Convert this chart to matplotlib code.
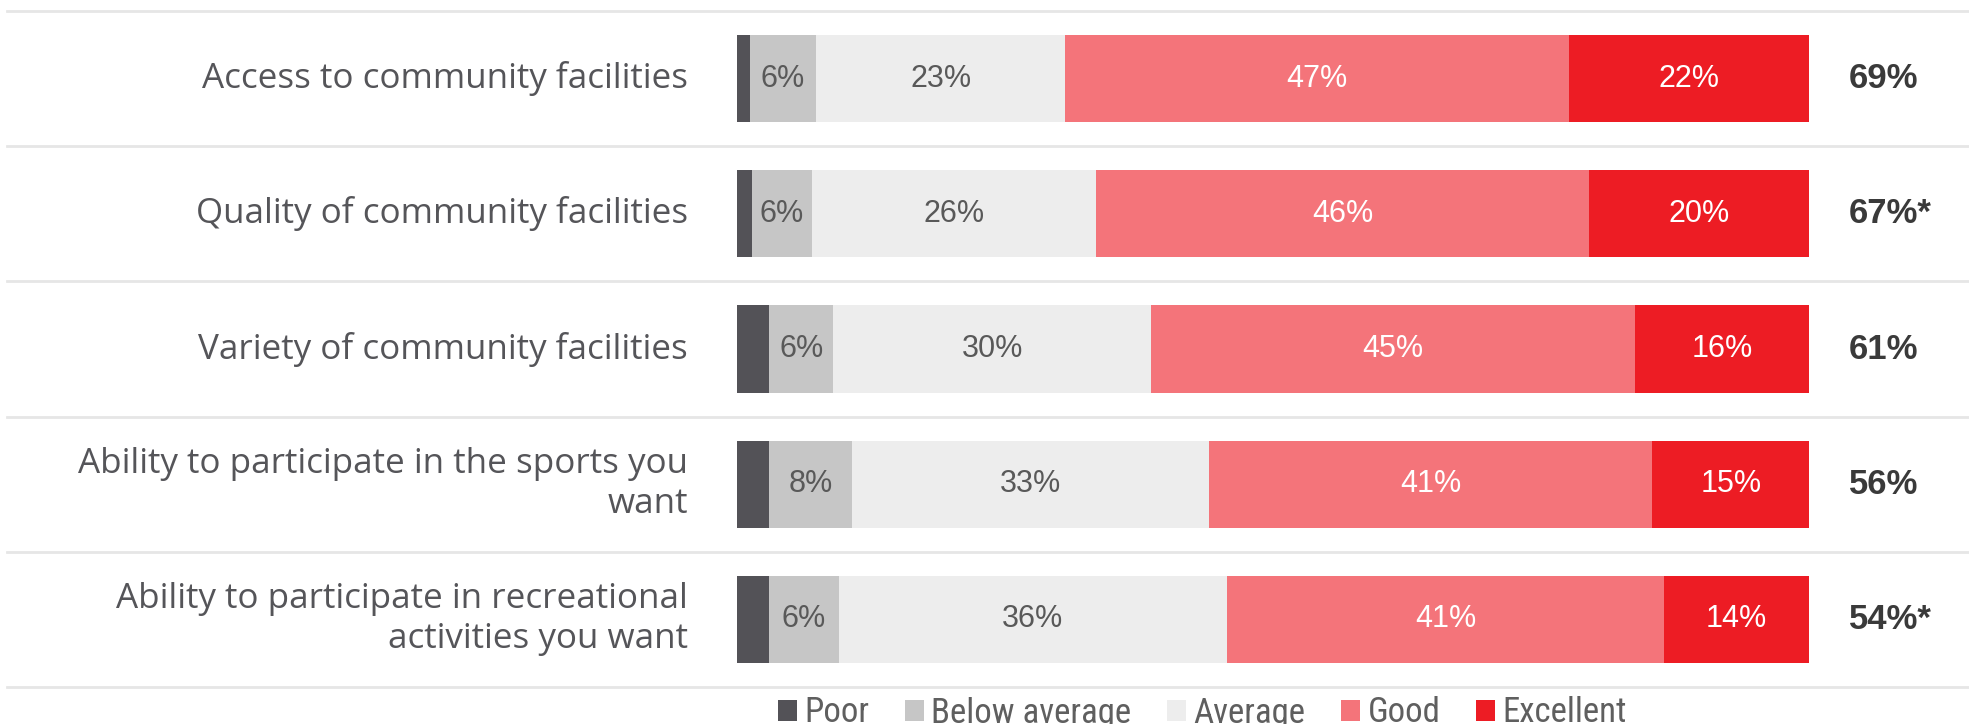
import matplotlib
matplotlib.use("Agg")
import matplotlib.pyplot as plt
from matplotlib.patches import Patch
import matplotlib.transforms as mtransforms
from matplotlib import font_manager as fm

categories = [
    "Access to community facilities",
    "Quality of community facilities",
    "Variety of community facilities",
    "Ability to participate in the sports you\nwant",
    "Ability to participate in recreational\nactivities you want",
]
series_names = ["Poor", "Below average", "Average", "Good", "Excellent"]
poor = [1.2, 1.4, 3.0, 3.0, 3.0]
below_average = [6.2, 5.6, 6.0, 7.7, 6.5]
average = [23.2, 26.5, 29.6, 33.3, 36.2]
good = [47.0, 46.0, 45.2, 41.4, 40.8]
excellent = [22.4, 20.5, 16.2, 14.6, 13.5]
seg_labels = [
    [None, "6%", "23%", "47%", "22%"],
    [None, "6%", "26%", "46%", "20%"],
    [None, "6%", "30%", "45%", "16%"],
    [None, "8%", "33%", "41%", "15%"],
    [None, "6%", "36%", "41%", "14%"],
]
totals = ["69%", "67%*", "61%", "56%", "54%*"]

colors = ["#535257", "#c6c6c6", "#ededed", "#f4747a", "#ed1c24"]
text_colors = [None, "#595959", "#595959", "white", "white"]


def pick_condensed_font():
    cands = []
    for f in fm.fontManager.ttflist:
        nm = f.name.lower()
        st = str(f.stretch).lower()
        is_cond = ("condensed" in nm or "narrow" in nm or st in ("condensed", "semi-condensed", "extra-condensed")
                   or (isinstance(f.stretch, int) and f.stretch < 500))
        if not is_cond:
            continue
        if f.style != "normal":
            continue
        w = f.weight if isinstance(f.weight, int) else (400 if str(f.weight) in ("normal", "regular", "book") else 700)
        if w > 450 or w < 350:
            continue
        pri = 5
        for k, pref in enumerate(["roboto", "liberation", "noto sans", "open sans", "dejavu sans"]):
            if pref in nm:
                pri = k
                break
        if "mono" in nm or ("serif" in nm and "sans" not in nm):
            pri += 10
        cands.append((pri, f.fname))
    cands.sort()
    return cands[0][1] if cands else None


W, H = 1969, 724
DPI = 100
fig = plt.figure(figsize=(W / DPI, H / DPI), dpi=DPI)
ax_left, ax_right = 737, 1809
ax_top, ax_bottom = 11, 687
ax = fig.add_axes([ax_left / W, 1 - ax_bottom / H, (ax_right - ax_left) / W, (ax_bottom - ax_top) / H])

data = [poor, below_average, average, good, excellent]
ypos = list(range(len(categories)))
lefts = [0.0] * len(categories)
for si, vals in enumerate(data):
    ax.barh(ypos, vals, left=lefts, height=0.645, color=colors[si], edgecolor="none")
    for i, v in enumerate(vals):
        lab = seg_labels[i][si]
        if lab:
            ax.text(lefts[i] + v / 2, i, lab, ha="center", va="center",
                    fontsize=22, color=text_colors[si], family="Liberation Sans")
    lefts = [l + v for l, v in zip(lefts, vals)]

ax.set_xlim(0, 100)
ax.set_ylim(len(categories) - 0.5, -0.5)
ax.axis("off")

trans = mtransforms.blended_transform_factory(ax.transAxes, ax.transData)
lab_x = (688 - ax_left) / (ax_right - ax_left)
tot_x = (1849 - ax_left) / (ax_right - ax_left)
for i, c in enumerate(categories):
    ax.text(lab_x, i, c, transform=trans, ha="right", va="center", fontsize=25.2,
            color="#555559", family="Open Sans", linespacing=1.23)
    ax.text(tot_x, i, totals[i], transform=trans, ha="left", va="center", fontsize=25,
            color="#3a3a3a", fontweight="bold", family="Liberation Sans")

xmin = (7 - ax_left) / (ax_right - ax_left)
xmax = 1 + (W - ax_right) / (ax_right - ax_left)
for k in range(len(categories) + 1):
    ax.axhline(k - 0.5, xmin=xmin, xmax=xmax, color="#e6e6e6", lw=2.0, clip_on=False, zorder=0)

cond = pick_condensed_font()
handles = [Patch(facecolor=c, edgecolor="none") for c in colors]

leg_x0, leg_x1 = 778, 1627
sq_px, pad_px, col_px = 19, 7, 36


def make_legend(size):
    if cond:
        prop = fm.FontProperties(fname=cond, size=size)
    else:
        prop = fm.FontProperties(family="Liberation Sans", size=size)
    em = size * DPI / 72
    return fig.legend(handles, series_names, loc="center",
                      bbox_to_anchor=((leg_x0 + leg_x1) / 2 / W, 1 - 713 / H),
                      ncol=5, frameon=False, borderpad=0, borderaxespad=0,
                      handlelength=sq_px / em, handleheight=sq_px / em,
                      handletextpad=pad_px / em, columnspacing=col_px / em,
                      prop=prop, labelcolor="#5f5f5f")


size = 24
leg = make_legend(size)
fig.canvas.draw()
target = leg_x1 - leg_x0
fixed = 5 * (sq_px + pad_px) + 4 * col_px
for _ in range(4):
    bb = leg.get_window_extent(fig.canvas.get_renderer())
    text_w = bb.width - fixed
    leg.remove()
    size = min(size * (target - fixed) / max(text_w, 1), 28)
    leg = make_legend(size)
    fig.canvas.draw()

fig.savefig("out.png", dpi=DPI)
